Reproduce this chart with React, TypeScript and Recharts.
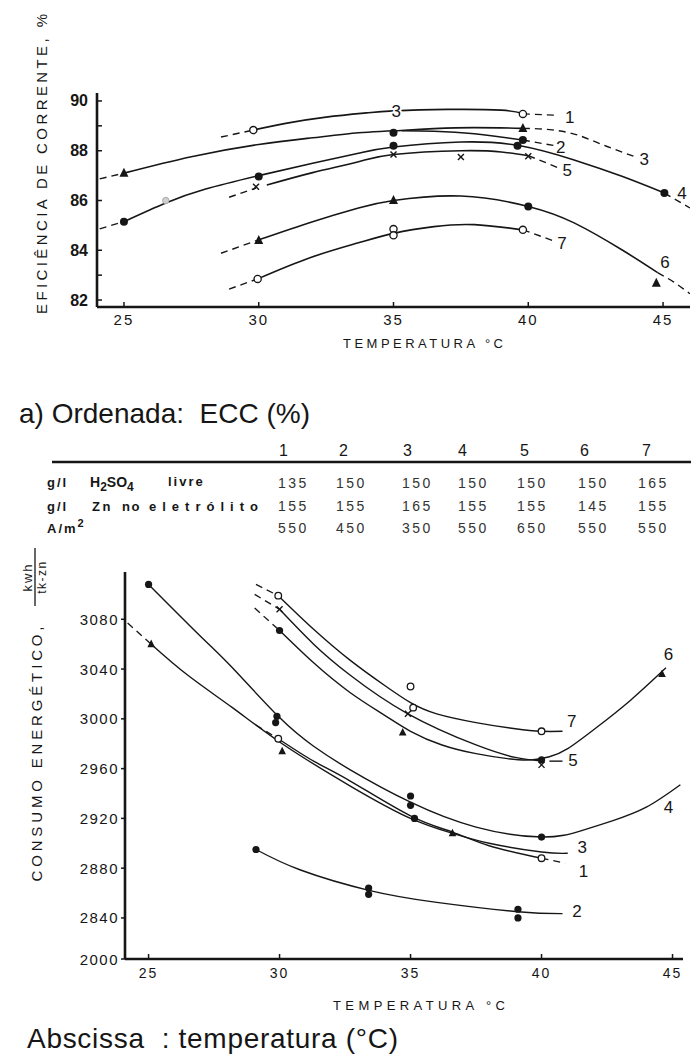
import React from 'react';
import { ComposedChart, Line, Scatter, XAxis, YAxis } from 'recharts';

const FONT = "'Liberation Sans', Arial, Helvetica, sans-serif";
const INK = '#161616';

// ================= TOP CHART: ECC (%) vs temperature =================
const eccXTicks = [25, 30, 35, 40, 45];
const eccYTicks = [82, 83, 84, 86, 88, 89, 90];
const eccYLabelled = [82, 84, 86, 88, 90];

const ecc1Lead = [[28.6, 88.55], [29.8, 88.83]];
const ecc1 = [[29.8, 88.83], [31, 89.1], [32.5, 89.35], [34, 89.52], [35, 89.6], [37, 89.66], [39, 89.63], [39.8, 89.5]];
const ecc1Tail = [[39.8, 89.48], [41, 89.43]];
const ecc2 = [[35.3, 88.8], [36.5, 88.78], [38, 88.68], [39.8, 88.43]];
const ecc2Tail = [[39.8, 88.43], [41, 88.2]];
const ecc3Lead = [[24.1, 86.87], [25, 87.1]];
const ecc3 = [[25, 87.1], [27.5, 87.76], [30, 88.25], [32, 88.52], [33.7, 88.72], [35, 88.8], [37.3, 88.92], [39.8, 88.9]];
const ecc3Tail = [[39.8, 88.9], [40.8, 88.85], [41.67, 88.68], [42.9, 88.18], [43.9, 87.78]];
const ecc4Lead = [[24.1, 84.86], [25, 85.15]];
const ecc4 = [[25, 85.15], [26.55, 85.9], [28, 86.45], [30, 87.0], [32, 87.5], [33.7, 87.9], [35, 88.15], [37.5, 88.35], [39.7, 88.2], [41.7, 87.63], [43.5, 86.96], [45.05, 86.3]];
const ecc4Tail = [[45.05, 86.3], [46, 85.7]];
const ecc5Lead = [[28.9, 86.13], [29.9, 86.5]];
const ecc5 = [[30.3, 86.62], [32, 87.12], [33.7, 87.56], [35, 87.85], [37.5, 88.0], [39, 87.95], [40, 87.8]];
const ecc5Tail = [[40, 87.8], [40.7, 87.5], [41.1, 87.32]];
const ecc6Lead = [[28.6, 83.88], [30, 84.42]];
const ecc6 = [[30, 84.42], [32, 85.15], [33.7, 85.7], [35, 86.0], [37.5, 86.18], [40, 85.76], [41.7, 85.1], [43.5, 84.0], [44.8, 83.1]];
const ecc6Tail = [[44.8, 83.1], [45.4, 82.72], [46, 82.25]];
const ecc7Lead = [[28.9, 82.44], [29.96, 82.85]];
const ecc7 = [[29.96, 82.85], [31.9, 83.7], [33.7, 84.3], [35, 84.68], [36.5, 84.95], [38, 85.03], [39.8, 84.82]];
const ecc7Tail = [[39.8, 84.82], [40.5, 84.55], [41, 84.35]];

const eccCircles = [[29.8, 88.83], [39.8, 89.48], [29.96, 82.85], [35, 84.85], [35, 84.6], [39.8, 84.82]];
const eccGray = [[26.55, 86.0]];
const eccDots = [[35, 88.72], [39.8, 88.43], [25, 85.15], [30, 86.96], [35, 88.2], [39.6, 88.2], [45.05, 86.3], [40, 85.76]];
const eccTriangles = [[25, 87.1], [39.8, 88.9], [30, 84.4], [35, 86.0], [44.75, 82.68]];
const eccCrosses = [[29.9, 86.55], [35, 87.85], [37.5, 87.75], [40, 87.78]];
const eccLabels = [
  { x: 41.54, y: 89.37, t: '1' }, { x: 41.2, y: 88.14, t: '2' }, { x: 44.3, y: 87.68, t: '3' },
  { x: 45.7, y: 86.29, t: '4' }, { x: 41.45, y: 87.22, t: '5' }, { x: 45.07, y: 83.55, t: '6' },
  { x: 41.25, y: 84.28, t: '7' },
];
const eccInlineLabels = [{ x: 35.1, y: 89.6, t: '3' }];

// ================= TABLE =================
const tableCols = ['1', '2', '3', '4', '5', '6', '7'];
const h2so4Row = ['135', '150', '150', '150', '150', '150', '165'];
const znRow = ['155', '155', '165', '155', '155', '145', '155'];
const currentRow = ['550', '450', '350', '550', '650', '550', '550'];

// ================= BOTTOM CHART: energy consumption =================
const ceXTicks = [25, 30, 35, 40, 45];
const ceYTicks = [2807, 2840, 2880, 2920, 2960, 3000, 3040, 3080];
const ceYTickText = ['2000', '2840', '2880', '2920', '2960', '3000', '3040', '3080'];

const ce1Lead = [[29.1, 2995], [29.95, 2984]];
const ce1 = [[29.95, 2984], [31.3, 2966], [32.7, 2950], [35, 2922], [36.6, 2909], [38, 2898], [40, 2888]];
const ce1Tail = [[40, 2888], [40.9, 2884]];
const ce2 = [[29.1, 2895], [30.8, 2878.5], [33.45, 2862], [36, 2852.5], [39.1, 2845], [40.8, 2843.5]];
const ce3Lead = [[24.2, 3077], [25.1, 3060]];
const ce3 = [[25.1, 3060], [26.5, 3035], [28.2, 3009], [30.1, 2980], [32.7, 2946], [35, 2920], [36.6, 2908], [38, 2900], [40, 2893], [41, 2892]];
const ce4 = [[25, 3108], [27, 3066], [28.2, 3041], [30, 3001], [31.3, 2978], [32.7, 2959], [35, 2933], [37.5, 2913], [40, 2905], [41.5, 2910], [42.7, 2918], [44, 2929], [45.3, 2947]];
const ce5Lead = [[29.05, 3100], [30, 3088]];
const ce5 = [[30, 3088], [31.3, 3060], [32.7, 3035], [34.9, 3004], [37.5, 2979], [39, 2969], [40, 2966]];
const ce5Tail = [[40.3, 2966], [40.8, 2966]];
const ce6Lead = [[29.05, 3089], [30, 3071]];
const ce6 = [[30, 3071], [31.3, 3045], [32.7, 3021], [34, 3003], [35, 2990], [36.2, 2979], [37.5, 2972], [38.7, 2968], [39.6, 2967], [40.3, 2969.5], [41, 2976], [42.1, 2993], [43.4, 3015], [44.75, 3041]];
const ce7Lead = [[29.1, 3108], [29.95, 3099]];
const ce7 = [[29.95, 3099], [31.3, 3072], [32.7, 3047], [34, 3027], [35, 3013], [36, 3004], [37.5, 2997], [39, 2992], [40, 2990], [40.8, 2990]];

const ceCircles = [[29.95, 2984], [40, 2888], [29.95, 3099], [35, 3026], [35.1, 3009], [40, 2990]];
const ceDots = [[25, 3108], [29.9, 3002], [29.85, 2997], [35, 2938], [35, 2930.5], [40, 2905], [29.1, 2895], [33.4, 2864], [33.4, 2859], [39.1, 2847], [39.1, 2840], [30, 3071], [40, 2967], [35.15, 2920]];
const ceTriangles = [[25.1, 3060], [30.1, 2974], [36.6, 2908], [34.7, 2989], [44.6, 3036]];
const ceCrosses = [[30, 3088], [34.9, 3004], [40, 2963]];
const ceLabels = [
  { x: 41.6, y: 2878, t: '1' }, { x: 41.35, y: 2846, t: '2' }, { x: 41.55, y: 2897, t: '3' },
  { x: 44.85, y: 2929, t: '4' }, { x: 41.2, y: 2967, t: '5' }, { x: 44.85, y: 3052, t: '6' },
  { x: 41.15, y: 2998, t: '7' },
];

// ================= helpers =================
const toPts = (a: number[][]) => a.map(([x, y]) => ({ x, y }));

function Glyph({ cx, cy, kind, s }: { cx: number; cy: number; kind: string; s: number }) {
  if (cx == null || cy == null || isNaN(cx) || isNaN(cy)) return null;
  if (kind === 'circle') return <circle cx={cx} cy={cy} r={s} fill="#fff" stroke={INK} strokeWidth={1.3} />;
  if (kind === 'gray') return <circle cx={cx} cy={cy} r={s} fill="#cfcfcf" stroke="#aaa" strokeWidth={1} />;
  if (kind === 'dot') return <circle cx={cx} cy={cy} r={s} fill={INK} />;
  if (kind === 'tri')
    return <path d={`M${cx},${cy - s * 1.2} L${cx + s},${cy + s * 0.8} L${cx - s},${cy + s * 0.8} Z`} fill={INK} />;
  return (
    <g stroke={INK} strokeWidth={1.4}>
      <line x1={cx - s} y1={cy - s} x2={cx + s} y2={cy + s} />
      <line x1={cx - s} y1={cy + s} x2={cx + s} y2={cy - s} />
    </g>
  );
}

const glyphShape = (kind: string, s: number) => (p: any) => <Glyph cx={p.cx} cy={p.cy} kind={kind} s={s} />;

const labelShape = (size: number, halo: boolean) => (p: any) => (
  <text
    x={p.cx}
    y={p.cy + size * 0.36}
    textAnchor="middle"
    fontFamily={FONT}
    fontSize={size}
    fill={INK}
    stroke={halo ? '#fff' : 'none'}
    strokeWidth={halo ? 4 : 0}
    style={{ paintOrder: 'stroke' }}
  >
    {p.payload.t}
  </text>
);

const renderLine = (d: number[][], key: string, dashed: boolean, w: number) => (
  <Line
    key={key}
    data={toPts(d)}
    dataKey="y"
    type={dashed ? 'monotone' : 'natural'}
    dot={false}
    activeDot={false}
    stroke={INK}
    strokeWidth={w}
    strokeDasharray={dashed ? '7 5' : undefined}
    isAnimationActive={false}
  />
);

// ticks
const EccYTick = (p: any) => {
  const v = p.payload.value;
  const ax = p.x + 9;
  return (
    <g>
      <line x1={ax} x2={ax + 5} y1={p.y} y2={p.y} stroke={INK} strokeWidth={1.5} />
      {eccYLabelled.includes(v) && (
        <text x={p.x} y={p.y + 5.5} textAnchor="end" fontFamily={FONT} fontWeight="bold" fontSize={16} fill={INK}>
          {v}
        </text>
      )}
    </g>
  );
};
const EccXTick = (p: any) => (
  <g>
    <line x1={p.x} x2={p.x} y1={p.y} y2={p.y - 5} stroke={INK} strokeWidth={1.5} />
    <text x={p.x} y={p.y + 18} textAnchor="middle" fontFamily={FONT} fontSize={15} letterSpacing={2} fill={INK}>
      {p.payload.value}
    </text>
  </g>
);
const CeYTick = (p: any) => {
  const i = ceYTicks.indexOf(p.payload.value);
  return (
    <text x={p.x} y={p.y + 5.5} textAnchor="end" fontFamily={FONT} fontSize={15} letterSpacing={1.5} fill={INK}>
      {ceYTickText[i]}
    </text>
  );
};
const CeXTick = (p: any) => (
  <g>
    <line x1={p.x} x2={p.x} y1={p.y} y2={p.y - 5} stroke={INK} strokeWidth={1.5} />
    <text x={p.x} y={p.y + 19} textAnchor="middle" fontFamily={FONT} fontSize={14} letterSpacing={2} fill={INK}>
      {p.payload.value}
    </text>
  </g>
);

const eccSolid = [ecc1, ecc2, ecc3, ecc4, ecc5, ecc6, ecc7];
const eccDashed = [ecc1Lead, ecc1Tail, ecc2Tail, ecc3Lead, ecc3Tail, ecc4Lead, ecc4Tail, ecc5Lead, ecc5Tail, ecc6Lead, ecc6Tail, ecc7Lead, ecc7Tail];
const ceSolid = [ce1, ce2, ce3, ce4, ce5, ce5Tail, ce6, ce7];
const ceDashed = [ce1Lead, ce1Tail, ce3Lead, ce5Lead, ce6Lead, ce7Lead];

const colX = [278, 336, 402, 458, 517, 578, 638];
const headX = [279, 339, 403, 458, 520, 580, 642];

export default function App() {
  const txt = { fontFamily: FONT, fill: INK } as const;
  return (
    <div style={{ position: 'absolute', left: 0, top: 0, width: 691, height: 1054, background: '#fff', overflow: 'hidden' }}>
      {/* Top chart */}
      <div style={{ position: 'absolute', left: 0, top: 0 }}>
        <ComposedChart width={691} height={345} margin={{ top: 93, right: 1, bottom: 0, left: 0 }}>
          <XAxis
            type="number"
            dataKey="x"
            domain={[24, 46]}
            allowDataOverflow
            ticks={eccXTicks}
            height={38}
            tickSize={0}
            tickMargin={0}
            tick={EccXTick}
            axisLine={{ stroke: INK, strokeWidth: 2.6 }}
            tickLine={false}
          />
          <YAxis
            type="number"
            dataKey="y"
            domain={[81.72, 90.32]}
            allowDataOverflow
            ticks={eccYTicks}
            width={97}
            tickSize={0}
            tickMargin={9}
            tick={EccYTick}
            axisLine={{ stroke: INK, strokeWidth: 2.6 }}
            tickLine={false}
          />
          {eccSolid.map((d, i) => renderLine(d, 'es' + i, false, 1.6))}
          {eccDashed.map((d, i) => renderLine(d, 'ed' + i, true, 1.4))}
          <Scatter data={toPts(eccCircles)} shape={glyphShape('circle', 3.6)} isAnimationActive={false} />
          <Scatter data={toPts(eccGray)} shape={glyphShape('gray', 3.2)} isAnimationActive={false} />
          <Scatter data={toPts(eccDots)} shape={glyphShape('dot', 4)} isAnimationActive={false} />
          <Scatter data={toPts(eccTriangles)} shape={glyphShape('tri', 4.5)} isAnimationActive={false} />
          <Scatter data={toPts(eccCrosses)} shape={glyphShape('cross', 3)} isAnimationActive={false} />
          <Scatter data={eccInlineLabels} shape={labelShape(17, true)} isAnimationActive={false} />
          <Scatter data={eccLabels} shape={labelShape(17, false)} isAnimationActive={false} />
        </ComposedChart>
      </div>

      {/* Bottom chart */}
      <div style={{ position: 'absolute', left: 0, top: 540 }}>
        <ComposedChart width={691} height={514} margin={{ top: 32, right: 8, bottom: 0, left: 0 }}>
          <XAxis
            type="number"
            dataKey="x"
            domain={[24.1, 45.4]}
            allowDataOverflow
            ticks={ceXTicks}
            height={95}
            tickSize={0}
            tickMargin={0}
            tick={CeXTick}
            axisLine={{ stroke: INK, strokeWidth: 2.6 }}
            tickLine={false}
          />
          <YAxis
            type="number"
            dataKey="y"
            domain={[2807, 3118]}
            allowDataOverflow
            ticks={ceYTicks}
            width={125}
            tickSize={4}
            tickMargin={2}
            tick={CeYTick}
            axisLine={{ stroke: INK, strokeWidth: 2.6 }}
            tickLine={{ stroke: INK, strokeWidth: 1.5 }}
          />
          {ceSolid.map((d, i) => renderLine(d, 'cs' + i, false, 1.4))}
          {ceDashed.map((d, i) => renderLine(d, 'cd' + i, true, 1.3))}
          <Scatter data={toPts(ceCircles)} shape={glyphShape('circle', 3.3)} isAnimationActive={false} />
          <Scatter data={toPts(ceDots)} shape={glyphShape('dot', 3.6)} isAnimationActive={false} />
          <Scatter data={toPts(ceTriangles)} shape={glyphShape('tri', 3.8)} isAnimationActive={false} />
          <Scatter data={toPts(ceCrosses)} shape={glyphShape('cross', 3)} isAnimationActive={false} />
          <Scatter data={ceLabels} shape={labelShape(17, false)} isAnimationActive={false} />
        </ComposedChart>
      </div>

      {/* Text overlay */}
      <svg width={691} height={1054} style={{ position: 'absolute', left: 0, top: 0, pointerEvents: 'none' }}>
        <text transform="translate(47,164) rotate(-90)" textAnchor="middle" fontSize={15} textLength={300} lengthAdjust="spacing" {...txt}>
          EFICIÊNCIA DE CORRENTE, %
        </text>
        <text x={343} y={348} fontSize={13} textLength={160} lengthAdjust="spacing" {...txt}>
          TEMPERATURA °C
        </text>

        <text x={19} y={423} fontSize={28} style={{ whiteSpace: 'pre' }} {...txt}>
          a) Ordenada:  ECC (%)
        </text>

        {/* table */}
        {tableCols.map((c, i) => (
          <text key={'h' + i} x={headX[i]} y={456} fontSize={16} {...txt}>{c}</text>
        ))}
        <line x1={52} x2={691} y1={462} y2={462} stroke={INK} strokeWidth={2.6} />
        <text x={47} y={487} fontSize={13} fontWeight="bold" letterSpacing={2} {...txt}>g/l</text>
        <text x={90} y={487} fontSize={14} fontWeight="bold" {...txt}>
          H<tspan dy={4} fontSize={12}>2</tspan><tspan dy={-4}>SO</tspan><tspan dy={4} fontSize={12}>4</tspan>
        </text>
        <text x={168} y={486} fontSize={13} fontWeight="bold" letterSpacing={2} {...txt}>livre</text>
        <text x={47} y={511} fontSize={13} fontWeight="bold" letterSpacing={2} {...txt}>g/l</text>
        <text x={92} y={511} fontSize={13} fontWeight="bold" letterSpacing={2.5} {...txt}>Zn</text>
        <text x={122} y={511} fontSize={13} fontWeight="bold" letterSpacing={1.5} {...txt}>no</text>
        <text x={149} y={511} fontSize={13} fontWeight="bold" textLength={109} lengthAdjust="spacing" {...txt}>eletrólito</text>
        <text x={47} y={533} fontSize={13} fontWeight="bold" letterSpacing={2} {...txt}>
          A/m<tspan dy={-6} fontSize={11}>2</tspan>
        </text>
        {h2so4Row.map((v, i) => (
          <text key={'a' + i} x={colX[i]} y={488} fontSize={14} letterSpacing={2.5} fill="#333" fontFamily={FONT}>{v}</text>
        ))}
        {znRow.map((v, i) => (
          <text key={'b' + i} x={colX[i]} y={511} fontSize={14} letterSpacing={2.5} fill="#333" fontFamily={FONT}>{v}</text>
        ))}
        {currentRow.map((v, i) => (
          <text key={'c' + i} x={colX[i]} y={533} fontSize={14} letterSpacing={2.5} fill="#333" fontFamily={FONT}>{v}</text>
        ))}

        {/* bottom y title + unit fraction */}
        <text transform="translate(42,754) rotate(-90)" textAnchor="middle" fontSize={15} textLength={255} lengthAdjust="spacing" {...txt}>
          CONSUMO ENERGÉTICO,
        </text>
        <g transform="translate(35,577) rotate(-90)">
          <text x={0} y={-3} textAnchor="middle" fontSize={13} letterSpacing={2} {...txt}>kwh</text>
          <line x1={-29} x2={29} y1={0} y2={0} stroke={INK} strokeWidth={1.3} />
          <text x={0} y={11} textAnchor="middle" fontSize={12} letterSpacing={1.5} {...txt}>tk-zn</text>
        </g>

        <text x={333} y={1010} fontSize={13} textLength={172} lengthAdjust="spacing" {...txt}>
          TEMPERATURA °C
        </text>
        <text x={27} y={1048} fontSize={28} textLength={371} lengthAdjust="spacing" style={{ whiteSpace: 'pre' }} {...txt}>
          Abscissa  : temperatura (°C)
        </text>
      </svg>
    </div>
  );
}
